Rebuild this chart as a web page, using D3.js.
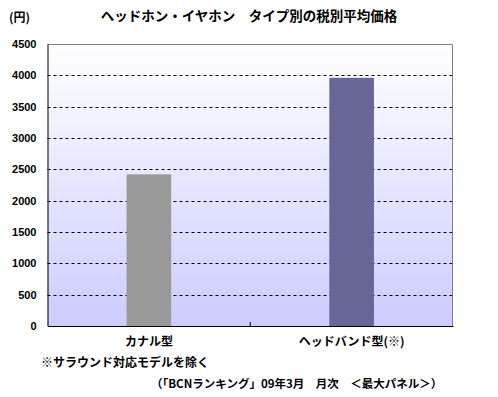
<!DOCTYPE html>
<html>
<head>
<meta charset="utf-8">
<script src="https://cdn.jsdelivr.net/npm/d3@7"></script>
<style>
  body { margin: 0; background: #fff; }
  text { font-family: "Noto Sans CJK JP", sans-serif; font-weight: bold; fill: #000; }
</style>
</head>
<body>
<div id="chart"></div>
<script>
// data
var categories = ["カナル型", "ヘッドバンド型(※)"];
var prices = [2420, 3960];
var barColors = ["#999999", "#666699"];
var yTicks = [0, 500, 1000, 1500, 2000, 2500, 3000, 3500, 4000, 4500];

var title = "ヘッドホン・イヤホン　タイプ別の税別平均価格";
var unitLabel = "(円)";
var note = "※サラウンド対応モデルを除く";
var source = "（「BCNランキング」09年3月　月次　＜最大パネル＞）";

var width = 498, height = 397;
var margin = {top: 44, right: 45, bottom: 71, left: 47.5};
var innerW = width - margin.left - margin.right;
var innerH = height - margin.top - margin.bottom;

var svg = d3.select("#chart")
  .append("svg")
  .attr("width", width)
  .attr("height", height);

var defs = svg.append("defs");
var grad = defs.append("linearGradient")
  .attr("id", "bg")
  .attr("x1", 0).attr("y1", 0).attr("x2", 0).attr("y2", 1);
grad.append("stop").attr("offset", "0%").attr("stop-color", "#ffffff");
grad.append("stop").attr("offset", "100%").attr("stop-color", "#ccccff");

var g = svg.append("g")
  .attr("transform", "translate(" + margin.left + "," + margin.top + ")");

var x = d3.scaleBand().domain(categories).range([0, innerW]);
var y = d3.scaleLinear().domain([0, 4500]).range([innerH, 0]);

// plot background
g.append("rect")
  .attr("width", innerW)
  .attr("height", innerH)
  .attr("fill", "url(#bg)");

// gridlines
g.selectAll(".grid")
  .data(yTicks.filter(function(d){ return d > 0 && d < 4500; }))
  .enter()
  .append("line")
    .attr("x1", 0).attr("x2", innerW)
    .attr("y1", function(d){ return Math.round(y(d)) + 0.5; })
    .attr("y2", function(d){ return Math.round(y(d)) + 0.5; })
    .attr("stroke", "#000")
    .attr("stroke-dasharray", "3,3");

// frame top / right in gray
g.append("path")
  .attr("d", "M0,0.5H" + (innerW - 0.5) + "V" + innerH)
  .attr("fill", "none")
  .attr("stroke", "#808080");

// bars
var bw = x.bandwidth() * 0.22;
g.selectAll(".bar")
  .data(prices)
  .enter()
  .append("rect")
    .attr("x", function(d, i){ return x(categories[i]) + x.bandwidth() / 2 - bw / 2; })
    .attr("y", function(d){ return y(d); })
    .attr("width", bw)
    .attr("height", function(d){ return innerH - y(d); })
    .attr("fill", function(d, i){ return barColors[i]; });

// y axis
var yAxis = g.append("g")
  .call(d3.axisLeft(y).tickValues(yTicks).tickFormat(d3.format("d")).tickSize(0).tickPadding(11));
yAxis.select(".domain").attr("stroke", "#000");
yAxis.selectAll("text")
  .style("font-family", "'Liberation Sans', Arial, sans-serif")
  .style("font-size", "11px")
  .style("font-weight", "bold");

// x axis
var xAxis = g.append("g")
  .attr("transform", "translate(0," + innerH + ")")
  .call(d3.axisBottom(x).tickSize(0).tickPadding(11));
xAxis.select(".domain").attr("stroke", "#000");
xAxis.selectAll("text")
  .style("font-size", "12px");
// middle separator tick
xAxis.append("line")
  .attr("x1", innerW / 2).attr("x2", innerW / 2)
  .attr("y1", 0).attr("y2", -4)
  .attr("stroke", "#000");

// titles and notes
svg.append("text")
  .attr("x", 249).attr("y", 21)
  .attr("text-anchor", "middle")
  .style("font-size", "13.5px")
  .text(title);

svg.append("text")
  .attr("x", 9).attr("y", 22)
  .style("font-size", "12px")
  .text(unitLabel);

svg.append("text")
  .attr("x", 41).attr("y", 367)
  .style("font-size", "12px")
  .text(note);

svg.append("text")
  .attr("x", 151).attr("y", 388)
  .style("font-size", "11.5px")
  .text(source);
</script>
</body>
</html>
